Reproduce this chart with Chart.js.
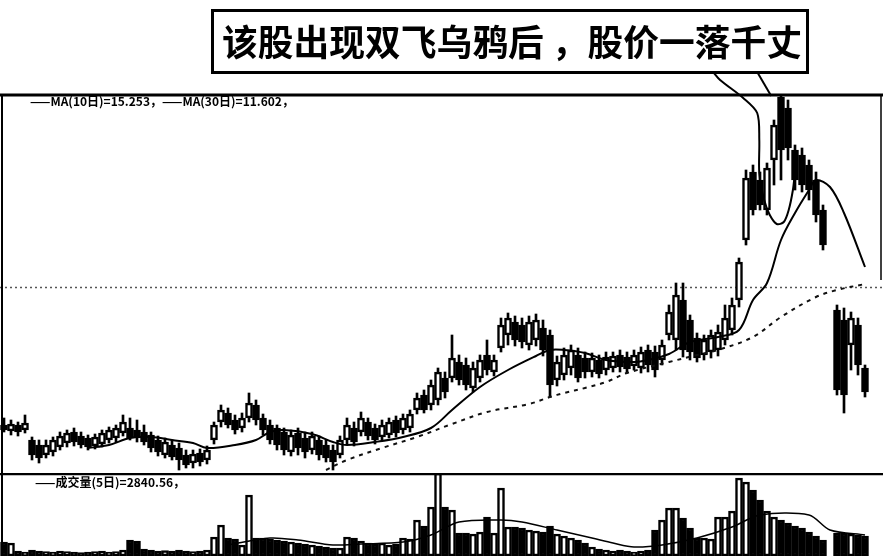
<!DOCTYPE html>
<html>
<head>
<meta charset="utf-8">
<script src="https://cdn.jsdelivr.net/npm/chart.js@4.4.1/dist/chart.umd.min.js"></script>
<style>
  html, body { margin: 0; padding: 0; background: #fff; }
  #wrap { position: relative; width: 883px; height: 556px; }
  canvas { position: absolute; left: 0; }
</style>
</head>
<body>
<div id="wrap">
  <canvas id="priceChart" width="883" height="473" style="top:0"></canvas>
  <canvas id="volChart" width="883" height="83" style="top:473px"></canvas>
</div>
<script>
// daily candles, index = trading day (118 = no trading)
const opens = [
  4.75, 4.45, 4.75, 4.50, 4.00, 3.75, 3.25, 3.40, 3.65, 3.85,
  4.40, 4.20, 4.10, 3.70, 3.80, 4.00, 4.10, 4.35, 4.60, 4.50,
  4.40, 4.25, 4.00, 3.25, 3.75, 3.60, 3.25, 2.85, 3.35, 3.00,
  4.00, 4.90, 5.35, 5.00, 4.60, 5.10, 5.75, 5.10, 4.75, 4.60,
  4.40, 3.40, 4.35, 4.10, 3.50, 4.00, 3.75, 3.50, 3.25, 4.00,
  4.60, 4.40, 4.90, 4.60, 4.15, 4.25, 5.00, 4.50, 4.60, 5.50,
  6.25, 5.75, 6.00, 7.10, 7.10, 7.90, 7.75, 6.60, 7.10, 8.25,
  7.40, 8.60, 9.25, 9.90, 9.75, 8.75, 9.00, 9.60, 9.25, 7.00,
  7.25, 7.60, 8.25, 8.10, 7.40, 8.00, 7.50, 7.60, 8.25, 8.15,
  7.70, 7.60, 8.50, 8.40, 8.00, 9.25, 9.00, 11.00, 10.00, 9.10,
  8.25, 8.40, 8.50, 9.00, 9.50, 11.00, 14.00, 17.40, 17.00, 15.50,
  18.00, 21.15, 20.60, 18.50, 18.25, 17.75, 17.00, 15.50, null, 10.50,
  10.00, 8.75, 9.75, 7.60
];
const closes = [
  4.50, 4.80, 4.40, 4.85, 3.25, 3.10, 3.75, 4.00, 4.20, 4.35,
  3.90, 3.75, 3.65, 4.15, 4.35, 4.50, 4.60, 4.90, 4.10, 4.10,
  3.90, 3.60, 3.40, 3.90, 3.15, 3.00, 2.75, 3.30, 2.90, 3.50,
  4.75, 5.50, 4.75, 4.50, 5.10, 5.85, 5.00, 4.50, 4.00, 3.75,
  3.50, 4.25, 3.60, 3.40, 4.20, 3.25, 3.10, 2.90, 4.00, 4.75,
  3.90, 5.10, 4.20, 4.00, 4.75, 4.90, 4.35, 5.10, 5.30, 6.10,
  5.50, 6.75, 7.40, 6.40, 8.10, 7.00, 6.75, 7.60, 8.00, 7.50,
  8.00, 9.75, 10.10, 9.00, 8.90, 9.90, 10.00, 8.50, 6.75, 7.90,
  8.25, 8.50, 7.10, 7.40, 8.10, 7.30, 8.15, 8.20, 7.65, 7.55,
  8.25, 8.40, 7.75, 7.50, 8.75, 10.40, 11.25, 8.50, 8.40, 8.10,
  9.00, 9.25, 9.40, 10.10, 10.75, 12.90, 17.10, 15.50, 15.75, 17.60,
  19.75, 18.50, 18.60, 17.00, 16.75, 16.50, 15.25, 13.75, null, 6.50,
  6.25, 10.10, 7.75, 6.40
];
const highs = [
  5.10, 5.00, 4.90, 5.25, 4.15, 4.00, 4.00, 4.15, 4.40, 4.50,
  4.60, 4.40, 4.25, 4.30, 4.50, 4.65, 4.75, 5.25, 5.10, 5.00,
  4.75, 4.40, 4.20, 4.10, 4.00, 3.85, 3.50, 3.50, 3.55, 3.70,
  4.90, 5.75, 5.60, 5.25, 5.35, 6.35, 6.00, 5.30, 5.00, 4.75,
  4.60, 4.50, 4.60, 4.40, 4.40, 4.20, 4.00, 3.75, 4.20, 5.10,
  4.90, 5.40, 5.10, 4.80, 5.00, 5.10, 5.20, 5.30, 5.50, 6.35,
  6.50, 7.00, 7.60, 7.40, 9.25, 8.25, 8.10, 7.90, 8.25, 9.00,
  8.25, 10.10, 10.35, 10.20, 10.10, 10.20, 10.30, 10.00, 9.50, 8.20,
  8.60, 8.75, 8.60, 8.40, 8.35, 8.25, 8.40, 8.40, 8.50, 8.40,
  8.50, 8.65, 8.75, 8.70, 9.00, 10.75, 11.85, 11.85, 10.25, 9.35,
  9.25, 9.50, 9.75, 10.75, 11.10, 13.10, 17.50, 17.75, 17.40, 17.85,
  20.00, 21.35, 21.00, 18.75, 18.60, 18.00, 17.40, 15.75, null, 10.75,
  10.60, 10.40, 10.10, 7.75
];
const lows = [
  4.40, 4.25, 4.20, 4.35, 3.00, 2.85, 3.10, 3.20, 3.50, 3.65,
  3.70, 3.60, 3.50, 3.55, 3.65, 3.85, 3.90, 4.20, 4.00, 3.90,
  3.75, 3.40, 3.20, 3.10, 3.00, 2.50, 2.60, 2.60, 2.70, 2.80,
  3.80, 4.65, 4.60, 4.30, 4.40, 4.90, 4.75, 4.25, 3.80, 3.50,
  3.25, 3.20, 3.25, 3.10, 3.30, 3.00, 2.90, 2.50, 3.10, 3.80,
  3.70, 4.20, 4.00, 3.80, 4.00, 4.10, 4.15, 4.30, 4.40, 5.30,
  5.35, 5.50, 5.75, 6.10, 6.90, 6.75, 6.50, 6.40, 6.90, 7.25,
  7.20, 8.40, 8.75, 8.70, 8.60, 8.50, 8.70, 8.20, 6.15, 6.70,
  7.00, 7.25, 6.90, 7.10, 7.15, 7.10, 7.25, 7.40, 7.40, 7.35,
  7.50, 7.35, 7.40, 7.15, 7.75, 9.00, 8.50, 8.15, 8.00, 7.90,
  8.00, 8.10, 8.20, 8.75, 9.25, 10.65, 13.75, 15.25, 15.50, 15.25,
  16.75, 17.00, 18.00, 16.50, 16.40, 16.00, 14.90, 13.50, null, 6.25,
  5.35, 7.50, 7.25, 6.15
];
const volumes = [
  1400, 1300, 500, 400, 600, 500, 450, 400, 500, 450,
  400, 350, 400, 450, 500, 400, 450, 600, 1600, 1500,
  700, 600, 500, 550, 500, 600, 500, 450, 500, 600,
  1900, 3100, 1800, 1700, 1100, 6100, 1800, 1800, 1700, 1600,
  1500, 1400, 1300, 1200, 1100, 1000, 900, 800, 800, 1900,
  1800, 1500, 1300, 1200, 1300, 1100, 1200, 1800, 1700, 3600,
  3000, 4900, 8300, 4900, 4600, 2300, 2300, 2200, 2400, 3900,
  2300, 6800, 2900, 2900, 2800, 2600, 2500, 2400, 3000, 2200,
  2000, 1800, 1600, 1300, 900, 700, 600, 500, 600, 500,
  400, 500, 600, 2600, 3600, 4800, 4800, 3800, 2800, 1800,
  1800, 1700, 3900, 3900, 4500, 7800, 7400, 6600, 5600, 4500,
  3900, 3600, 3300, 3000, 2800, 2400, 2000, 1600, null, 2300,
  2300, 2200, 2100, 2000
];

// moving averages (day index, value)
const maShortDays = [12, 15, 18, 21, 24, 27, 29, 33, 36, 38, 40, 44, 47, 49, 53, 57, 61, 64, 68, 72,
                     76, 78, 80, 83, 86, 90, 92, 95, 98, 102, 105, 107, 109, 111, 113, 115, 116, 118, 120, 123];
const maShortVals = [3.6, 3.75, 4.1, 4.15, 4.0, 3.85, 3.6, 3.75, 4.0, 4.4, 4.5, 4.3, 3.9, 3.75, 3.9, 4.15, 4.6, 5.5, 6.65, 7.5,
                     8.2, 8.5, 8.5, 8.35, 8.0, 7.9, 8.0, 8.3, 8.9, 9.15, 9.5, 11.0, 11.85, 14.0, 15.35, 16.5, 17.0, 16.65, 15.35, 12.65];
const maLongDays = [46, 49, 54, 59, 64, 69, 75, 78, 80, 83, 86, 89, 95, 99, 102, 107, 111, 116, 119, 123];
const maLongVals = [2.5, 3.0, 3.6, 4.15, 4.8, 5.4, 5.8, 6.15, 6.35, 6.6, 6.9, 7.35, 7.9, 8.25, 8.5, 9.15, 10.15, 11.15, 11.5, 11.8];
const volMaDays = [32, 38, 42, 47, 51, 57, 61, 65, 71, 74, 79, 84, 87, 90, 94, 99, 104, 108, 115, 118, 123];
const volMaVals = [1100, 1800, 1600, 1100, 1200, 1400, 2100, 3400, 3600, 3400, 2600, 1800, 1300, 900, 1100, 1800, 2900, 4100, 4100, 2600, 2100];

const gridLevels = [11.65];

// text
const noteText = '该股出现双飞乌鸦后 ，股价一落千丈';
const priceLegend = '——MA(10日)=15.253，——MA(30日)=11.602，';
const volLegend = '——成交量(5日)=2840.56，';

// hand drawn callout from the note to the two crows (day index, price)
const calloutDays = [101.3, 102.3, 105.6, 107.6, 107.9, 107.9, 108.6, 109.4, 110.4, 111.4, 112.1, 112.7, 113];
const calloutVals = [22.4, 22.0, 21.1, 20.35, 19.0, 17.35, 16.0, 15.25, 14.8, 14.9, 15.5, 16.5, 17.4];
const pointerDays = [107.6, 109.6];
const pointerVals = [22.4, 21.2];

const X_MIN = -4 / 7;
const X_MAX = 879 / 7;

function pts(xs, ys) {
    return xs.map(function(x, k) { return {x: x, y: ys[k]}; });
}

// Build candle parts
const wickData = [];
const bodyData = [];
const bodyFill = [];
const volData = [];
const volFill = [];
opens.forEach(function(o, i) {
    if (o === null) return;
    wickData.push({x: i, y: [lows[i], highs[i]]});
    bodyData.push({x: i, y: [Math.min(o, closes[i]), Math.max(o, closes[i])]});
    bodyFill.push(closes[i] > o ? '#fff' : '#000');
    volData.push({x: i, y: volumes[i]});
    volFill.push(closes[i] > o ? '#fff' : '#000');
});

function fitText(ctx, text, x, y, maxW) {
    const w = ctx.measureText(text).width;
    const s = Math.min(1, maxW / w);
    ctx.save();
    ctx.translate(x, y);
    ctx.scale(s, 1);
    ctx.fillText(text, 0, 0);
    ctx.restore();
}

// Frame, note box, legend text and grid for the price panel
const pricePanel = {
    id: 'pricePanel',
    beforeDatasetsDraw(chart) {
        const ctx = chart.ctx;
        const y = chart.scales.y;
        const area = chart.chartArea;
        ctx.save();
        ctx.strokeStyle = '#555';
        ctx.lineWidth = 1.5;
        ctx.setLineDash([2, 3]);
        gridLevels.forEach(function(v) {
            const py = Math.round(y.getPixelForValue(v)) + 0.5;
            ctx.beginPath();
            ctx.moveTo(area.left, py);
            ctx.lineTo(area.right, py);
            ctx.stroke();
        });
        ctx.restore();
    },
    afterDraw(chart) {
        const ctx = chart.ctx;
        const area = chart.chartArea;
        ctx.save();
        ctx.strokeStyle = '#000';
        ctx.fillStyle = '#000';

        // panel borders
        ctx.lineWidth = 3;
        ctx.beginPath();
        ctx.moveTo(0, area.top);
        ctx.lineTo(area.right, area.top);
        ctx.stroke();
        ctx.lineWidth = 2;
        ctx.beginPath();
        ctx.moveTo(2, area.top);
        ctx.lineTo(2, area.bottom);
        ctx.stroke();
        ctx.lineWidth = 1.5;
        ctx.beginPath();
        ctx.moveTo(area.right - 2, area.top);
        ctx.lineTo(area.right - 2, chart.scales.y.getPixelForValue(12.0));
        ctx.stroke();

        // legend line
        ctx.font = 'bold 12px "Noto Sans CJK SC"';
        ctx.textBaseline = 'middle';
        fitText(ctx, priceLegend, 30, area.top + 6, 355);

        // note box
        ctx.lineWidth = 3;
        ctx.strokeRect(212.5, 10.5, 595, 62);
        ctx.font = 'bold 36px "Noto Sans CJK SC"';
        ctx.textBaseline = 'middle';
        fitText(ctx, noteText, 222, 42, 580);
        ctx.restore();
    }
};

const volPanel = {
    id: 'volPanel',
    afterDraw(chart) {
        const ctx = chart.ctx;
        const area = chart.chartArea;
        ctx.save();
        ctx.strokeStyle = '#000';
        ctx.fillStyle = '#000';
        ctx.lineWidth = 2.5;
        ctx.beginPath();
        ctx.moveTo(0, 1);
        ctx.lineTo(area.right, 1);
        ctx.stroke();
        ctx.lineWidth = 2;
        ctx.beginPath();
        ctx.moveTo(2, 0);
        ctx.lineTo(2, area.bottom);
        ctx.stroke();
        ctx.font = 'bold 12px "Noto Sans CJK SC"';
        ctx.textBaseline = 'middle';
        fitText(ctx, volLegend, 35, 9, 180);
        ctx.restore();
    }
};

const xScale = { type: 'linear', min: X_MIN, max: X_MAX, display: false, offset: false };

new Chart(document.getElementById('priceChart'), {
    type: 'bar',
    data: {
        datasets: [
            {
                data: wickData,
                backgroundColor: '#000',
                barThickness: 2,
                grouped: false,
                order: 3
            },
            {
                data: bodyData,
                backgroundColor: bodyFill,
                borderColor: '#000',
                borderWidth: 2.5,
                borderSkipped: false,
                barThickness: 7,
                grouped: false,
                order: 2
            },
            {
                type: 'line',
                data: pts(maShortDays, maShortVals),
                borderColor: '#000',
                borderWidth: 2,
                pointRadius: 0,
                tension: 0.35,
                order: 1
            },
            {
                type: 'line',
                data: pts(maLongDays, maLongVals),
                borderColor: '#111',
                borderWidth: 2,
                borderDash: [4, 5],
                pointRadius: 0,
                tension: 0.35,
                order: 1
            },
            {
                type: 'line',
                data: pts(calloutDays, calloutVals),
                borderColor: '#000',
                borderWidth: 2,
                pointRadius: 0,
                tension: 0.3,
                clip: false,
                order: 0
            },
            {
                type: 'line',
                data: pts(pointerDays, pointerVals),
                borderColor: '#000',
                borderWidth: 2,
                pointRadius: 0,
                clip: false,
                order: 0
            }
        ]
    },
    options: {
        responsive: false,
        animation: false,
        events: [],
        layout: { padding: { top: 95, left: 0, right: 0, bottom: 0 } },
        plugins: { legend: { display: false }, tooltip: { enabled: false } },
        scales: {
            x: xScale,
            y: { min: 2.35, max: 21.25, display: false }
        }
    },
    plugins: [pricePanel]
});

new Chart(document.getElementById('volChart'), {
    type: 'bar',
    data: {
        datasets: [
            {
                data: volData,
                backgroundColor: volFill,
                borderColor: '#000',
                borderWidth: 2.5,
                borderSkipped: false,
                barThickness: 7,
                grouped: false,
                order: 2
            },
            {
                type: 'line',
                data: pts(volMaDays, volMaVals),
                borderColor: '#000',
                borderWidth: 1.5,
                pointRadius: 0,
                tension: 0.3,
                order: 1
            }
        ]
    },
    options: {
        responsive: false,
        animation: false,
        events: [],
        layout: { padding: 0 },
        plugins: { legend: { display: false }, tooltip: { enabled: false } },
        scales: {
            x: Object.assign({}, xScale),
            y: { min: 0, max: 8300, display: false }
        }
    },
    plugins: [volPanel]
});
</script>
</body>
</html>
